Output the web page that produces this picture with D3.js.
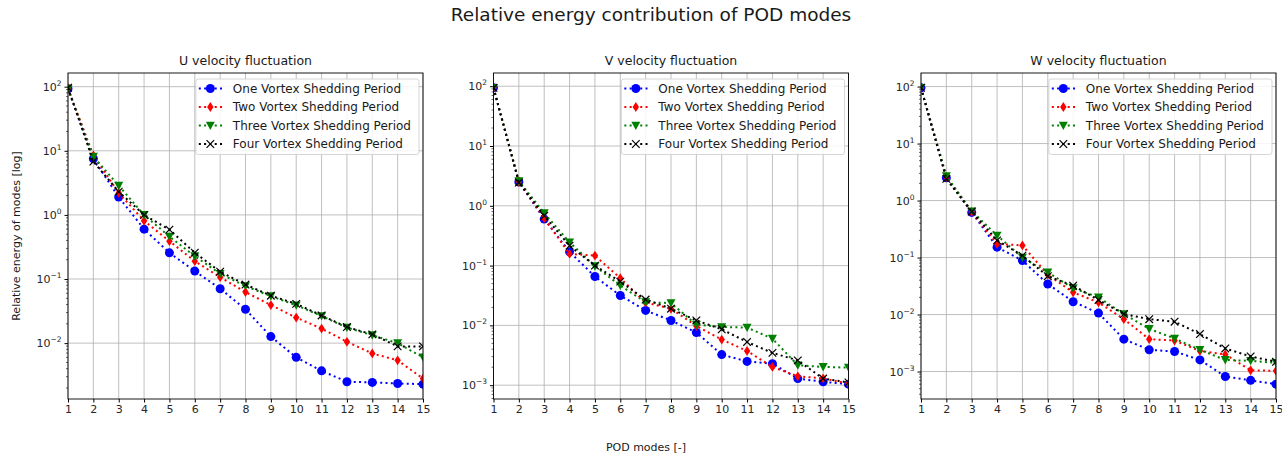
<!DOCTYPE html>
<html>
<head>
<meta charset="utf-8">
<script src="https://cdn.jsdelivr.net/npm/d3@7"></script>
<style>
  body { margin: 0; background: #fff; }
  svg { display: block; font-family: "DejaVu Sans", sans-serif; }
</style>
</head>
<body>
<svg id="chart" width="1282" height="456"></svg>
<script>
// POD mode numbers (x axis)
const modes = [1, 2, 3, 4, 5, 6, 7, 8, 9, 10, 11, 12, 13, 14, 15];
const xTickLabels = ["1", "2", "3", "4", "5", "6", "7", "8", "9", "10", "11", "12", "13", "14", "15"];

const seriesNames = [
  "One Vortex Shedding Period",
  "Two Vortex Shedding Period",
  "Three Vortex Shedding Period",
  "Four Vortex Shedding Period"
];
const panelTitles = ["U velocity fluctuation", "V velocity fluctuation", "W velocity fluctuation"];

// Relative energy (%) per mode, U component
const uOne   = [93, 7.5, 1.9, 0.6, 0.256, 0.133, 0.0706, 0.0337, 0.01265, 0.006, 0.0037, 0.0025, 0.00244, 0.00235, 0.00229];
const uTwo   = [93, 8.5, 2.2, 0.81, 0.39, 0.19, 0.107, 0.0625, 0.0393, 0.025, 0.0169, 0.0105, 0.0069, 0.0054, 0.0028];
const uThree = [93, 8.1, 2.86, 1.0, 0.46, 0.227, 0.121, 0.0776, 0.054, 0.039, 0.0265, 0.0175, 0.0133, 0.010, 0.006];
const uFour  = [96, 6.8, 2.3, 1.0, 0.59, 0.257, 0.13, 0.082, 0.055, 0.041, 0.027, 0.0178, 0.0137, 0.0089, 0.0089];

// V component
const vOne   = [94, 2.5, 0.6, 0.17, 0.0656, 0.0316, 0.0178, 0.0121, 0.0076, 0.00325, 0.0025, 0.00229, 0.00129, 0.00114, 0.00104];
const vTwo   = [94, 2.55, 0.62, 0.157, 0.147, 0.0617, 0.024, 0.019, 0.0098, 0.0058, 0.00374, 0.00202, 0.00141, 0.0013, 0.00106];
const vThree = [94, 2.6, 0.755, 0.245, 0.098, 0.0464, 0.0245, 0.0236, 0.0103, 0.0094, 0.0092, 0.006, 0.00216, 0.00202, 0.00197];
const vFour  = [94, 2.45, 0.68, 0.215, 0.1, 0.054, 0.0271, 0.019, 0.0121, 0.0086, 0.00528, 0.00347, 0.0026, 0.00129, 0.00111];

// W component
const wOne   = [95, 2.5, 0.62, 0.152, 0.0885, 0.0344, 0.0168, 0.0106, 0.0037, 0.0024, 0.00225, 0.0016, 0.00082, 0.0007, 0.0006];
const wTwo   = [95, 2.6, 0.63, 0.174, 0.163, 0.05, 0.0245, 0.0163, 0.0083, 0.0037, 0.0035, 0.0023, 0.002, 0.00105, 0.00103];
const wThree = [95, 2.7, 0.65, 0.244, 0.1, 0.055, 0.029, 0.02, 0.0102, 0.0056, 0.0038, 0.0024, 0.0016, 0.00154, 0.00142];
const wFour  = [95, 2.4, 0.64, 0.2, 0.108, 0.047, 0.0321, 0.018, 0.0102, 0.0083, 0.0075, 0.00454, 0.00254, 0.00184, 0.00148];

const panels = [
  [uOne, uTwo, uThree, uFour],
  [vOne, vTwo, vThree, vFour],
  [wOne, wTwo, wThree, wFour]
];

const colors = ["#0000ff", "#ff0000", "#008000", "#000000"];
const markerKinds = ["circle", "thinDiamond", "triangleDown", "cross"];

const svg = d3.select("#chart");
svg.append("rect").attr("width", 1282).attr("height", 456).attr("fill", "#fff");

// Figure layout
const axLefts = [68, 493.5, 921];
const axWidth = 355;
const axTop = 73, axBottom = 399;

svg.append("text")
  .attr("x", 651).attr("y", 21)
  .attr("text-anchor", "middle")
  .attr("font-size", 18.5)
  .attr("fill", "#1a1a1a")
  .text("Relative energy contribution of POD modes");

function markerPath(kind) {
  const s = 4.5;
  if (kind === "thinDiamond") {
    const w = 3.2, h = 4.9;
    return `M0,${-h}L${w},0L0,${h}L${-w},0Z`;
  }
  if (kind === "triangleDown") {
    return `M${-s},${-s * 0.85}L${s},${-s * 0.85}L0,${s}Z`;
  }
  if (kind === "cross") {
    const c = 3.8;
    return `M${-c},${-c}L${c},${c}M${-c},${c}L${c},${-c}`;
  }
  return null;
}

function drawMarker(g, kind, color, x, y) {
  if (kind === "circle") {
    g.append("circle").attr("cx", x).attr("cy", y).attr("r", 4.5).attr("fill", color);
  } else if (kind === "cross") {
    g.append("path").attr("d", markerPath(kind)).attr("transform", `translate(${x},${y})`)
      .attr("stroke", color).attr("stroke-width", 1.2).attr("fill", "none");
  } else {
    g.append("path").attr("d", markerPath(kind)).attr("transform", `translate(${x},${y})`)
      .attr("fill", color);
  }
}

function superLabel(sel, exp) {
  sel.text(null);
  sel.append("tspan").text("10");
  sel.append("tspan")
    .attr("dy", -5).attr("font-size", 7.5)
    .text(exp < 0 ? "\u2212" + Math.abs(exp) : String(exp));
}

panels.forEach((series, pi) => {
  const left = axLefts[pi];
  const right = left + axWidth;
  const g = svg.append("g");

  const x = d3.scaleLinear().domain([modes[0], modes[modes.length - 1]]).range([left, right]);

  const all = series.flat();
  const lo = Math.log10(d3.min(all)), hi = Math.log10(d3.max(all));
  const pad = (hi - lo) * 0.05;
  const y = d3.scaleLog().domain([Math.pow(10, lo - pad), Math.pow(10, hi + pad)]).range([axBottom, axTop]);

  const decades = d3.range(Math.ceil(lo - pad), Math.floor(hi + pad) + 1);
  const minor = [];
  for (let e = Math.floor(lo - pad); e <= Math.ceil(hi + pad); e++) {
    for (let m = 2; m <= 9; m++) {
      const v = m * Math.pow(10, e);
      if (v >= y.domain()[0] && v <= y.domain()[1]) minor.push(v);
    }
  }

  // grid
  g.append("g").selectAll("line").data(modes).join("line")
    .attr("x1", d => x(d)).attr("x2", d => x(d))
    .attr("y1", axTop).attr("y2", axBottom)
    .attr("stroke", "#b0b0b0").attr("stroke-width", 0.8);
  g.append("g").selectAll("line").data(decades).join("line")
    .attr("x1", left).attr("x2", right)
    .attr("y1", d => y(Math.pow(10, d))).attr("y2", d => y(Math.pow(10, d)))
    .attr("stroke", "#b0b0b0").attr("stroke-width", 0.8);

  // series lines and markers
  const line = d3.line().x((d, i) => x(modes[i])).y(d => y(d));
  const clipId = "clip" + pi;
  svg.append("clipPath").attr("id", clipId).append("rect")
    .attr("x", left).attr("y", axTop).attr("width", axWidth).attr("height", axBottom - axTop);
  const plot = g.append("g").attr("clip-path", `url(#${clipId})`);

  series.forEach((vals, si) => {
    plot.append("path").datum(vals)
      .attr("d", line)
      .attr("fill", "none")
      .attr("stroke", colors[si])
      .attr("stroke-width", 2)
      .attr("stroke-dasharray", "2,3.3");
    vals.forEach((v, i) => drawMarker(plot, markerKinds[si], colors[si], x(modes[i]), y(v)));
  });

  // axes
  const xAxis = d3.axisBottom(x).tickValues(modes).tickFormat((d, i) => xTickLabels[i]).tickSizeOuter(0).tickSize(3.5).tickPadding(3);
  const xg = g.append("g").attr("transform", `translate(0,${axBottom})`).call(xAxis);
  xg.selectAll("text").attr("font-size", 11).attr("fill", "#262626").attr("font-family", "DejaVu Sans");
  xg.select(".domain").remove();

  const yAxis = d3.axisLeft(y).tickValues(decades.map(e => Math.pow(10, e))).tickSize(3.5).tickSizeOuter(0).tickPadding(3);
  const yg = g.append("g").attr("transform", `translate(${left},0)`).call(yAxis);
  yg.select(".domain").remove();
  yg.selectAll("text").attr("font-size", 11).attr("fill", "#262626").attr("font-family", "DejaVu Sans")
    .each(function (d) { superLabel(d3.select(this), Math.round(Math.log10(d))); });

  g.append("g").selectAll("line").data(minor).join("line")
    .attr("x1", left - 2).attr("x2", left)
    .attr("y1", d => y(d)).attr("y2", d => y(d))
    .attr("stroke", "#000").attr("stroke-width", 0.6);

  // frame
  g.append("rect").attr("x", left).attr("y", axTop).attr("width", axWidth).attr("height", axBottom - axTop)
    .attr("fill", "none").attr("stroke", "#000").attr("stroke-width", 0.9);

  // panel title
  g.append("text")
    .attr("x", (left + right) / 2).attr("y", 64.5)
    .attr("text-anchor", "middle").attr("font-size", 12.5).attr("fill", "#1a1a1a")
    .text(panelTitles[pi]);

  // legend
  const lg = g.append("g");
  const rowGap = 18.5;
  const box = lg.append("rect").attr("rx", 2.5)
    .attr("fill", "#fff").attr("fill-opacity", 0.85)
    .attr("stroke", "#cccccc").attr("stroke-width", 0.8);
  let maxW = 0;
  const texts = seriesNames.map((name, si) => {
    const t = lg.append("text").attr("font-size", 12).attr("fill", "#1a1a1a")
      .attr("dominant-baseline", "central").text(name);
    maxW = Math.max(maxW, t.node().getComputedTextLength());
    return t;
  });
  const boxW = 37 + maxW + 8;
  const bx = right - 4 - boxW, by = axTop + 6;
  box.attr("x", bx).attr("y", by).attr("width", boxW).attr("height", rowGap * 3 + 20);
  seriesNames.forEach((name, si) => {
    const cy = by + 9.5 + si * rowGap;
    texts[si].attr("x", bx + 37).attr("y", cy);
    lg.append("line").attr("x1", bx + 3).attr("x2", bx + 27).attr("y1", cy).attr("y2", cy)
      .attr("stroke", colors[si]).attr("stroke-width", 2).attr("stroke-dasharray", "2,3.3");
    drawMarker(lg, markerKinds[si], colors[si], bx + 14.5, cy);
  });
});

// shared axis labels
svg.append("text")
  .attr("transform", `translate(20,${(axTop + axBottom) / 2}) rotate(-90)`)
  .attr("text-anchor", "middle").attr("font-size", 11).attr("fill", "#1a1a1a")
  .text("Relative energy of modes [log]");

svg.append("text")
  .attr("x", 646).attr("y", 451)
  .attr("text-anchor", "middle").attr("font-size", 11).attr("fill", "#1a1a1a")
  .text("POD modes [-]");
</script>
</body>
</html>
